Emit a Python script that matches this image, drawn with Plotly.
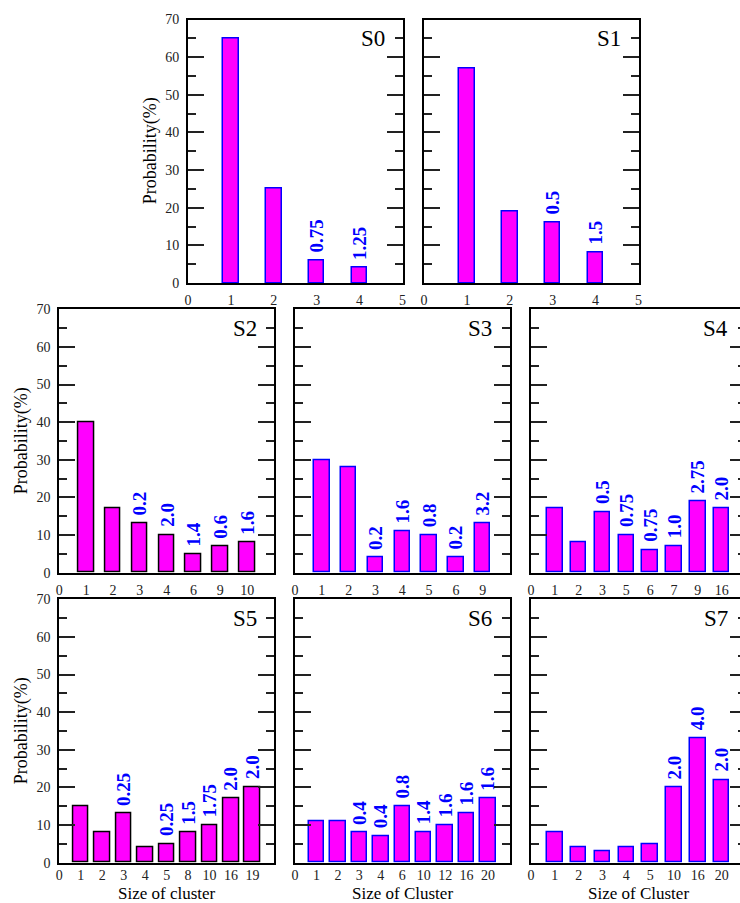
import plotly.graph_objects as go

W, H = 740, 903

# ---- data: cluster-size distribution per snapshot ----
s0_ticks = ["0", "1", "2", "3", "4", "5"]
s0_prob = [65, 25, 6, 4]
s0_note = ["", "", "0.75", "1.25"]

s1_ticks = ["0", "1", "2", "3", "4", "5"]
s1_prob = [57, 19, 16, 8]
s1_note = ["", "", "0.5", "1.5"]

s2_ticks = ["0", "1", "2", "3", "4", "6", "9", "10"]
s2_prob = [40, 17, 13, 10, 5, 7, 8]
s2_note = ["", "", "0.2", "2.0", "1.4", "0.6", "1.6"]

s3_ticks = ["0", "1", "2", "3", "4", "5", "6", "9"]
s3_prob = [30, 28, 4, 11, 10, 4, 13]
s3_note = ["", "", "0.2", "1.6", "0.8", "0.2", "3.2"]

s4_ticks = ["0", "1", "2", "3", "5", "6", "7", "9", "16"]
s4_prob = [17, 8, 16, 10, 6, 7, 19, 17]
s4_note = ["", "", "0.5", "0.75", "0.75", "1.0", "2.75", "2.0"]

s5_ticks = ["0", "1", "2", "3", "4", "5", "8", "10", "16", "19"]
s5_prob = [15, 8, 13, 4, 5, 8, 10, 17, 20]
s5_note = ["", "", "0.25", "", "0.25", "1.5", "1.75", "2.0", "2.0"]

s6_ticks = ["0", "1", "2", "3", "4", "6", "10", "12", "16", "20"]
s6_prob = [11, 11, 8, 7, 15, 8, 10, 13, 17]
s6_note = ["", "", "0.4", "0.4", "0.8", "1.4", "1.6", "1.6", "1.6"]

s7_ticks = ["0", "1", "2", "3", "4", "5", "10", "16", "20"]
s7_prob = [8, 4, 3, 4, 5, 20, 33, 22]
s7_note = ["", "", "", "", "", "2.0", "4.0", "2.0"]

# ---- layout geometry (pixels) ----
ROW_TOP = (19.5, 283.0)
ROW_MID = (309.3, 572.7)
ROW_BOT = (599.3, 862.7)
COL_A = (59.3, 274.0)
COL_B = (295.0, 509.5)
COL_C = (531.0, 745.5)   # runs past the right edge of the page

FONT = "Liberation Serif"
MAGENTA = "#FF00FF"
BLUE = "#0000FF"
BAR_PX = 15.5

panels = [
    # name, ticks, prob, note, outline, cols, row, nslots
    ("S0", s0_ticks, s0_prob, s0_note, BLUE, (188.0, 402.5), ROW_TOP, 5),
    ("S1", s1_ticks, s1_prob, s1_note, BLUE, (424.0, 638.5), ROW_TOP, 5),
    ("S2", s2_ticks, s2_prob, s2_note, "#000000", COL_A, ROW_MID, 8),
    ("S3", s3_ticks, s3_prob, s3_note, BLUE, COL_B, ROW_MID, 8),
    ("S4", s4_ticks, s4_prob, s4_note, BLUE, COL_C, ROW_MID, 9),
    ("S5", s5_ticks, s5_prob, s5_note, "#000000", COL_A, ROW_BOT, 10),
    ("S6", s6_ticks, s6_prob, s6_note, BLUE, COL_B, ROW_BOT, 10),
    ("S7", s7_ticks, s7_prob, s7_note, BLUE, COL_C, ROW_BOT, 9),
]
with_ylabels = {"S0", "S2", "S5"}
x_titles = {"S5": "Size of cluster", "S6": "Size of Cluster", "S7": "Size of Cluster"}

fig = go.Figure()
layout = {}
annotations = []
overlay_id = len(panels) + 1


def px_x(v):
    return v / W


def px_y(v):
    return 1 - v / H


for i, (name, ticks, prob, note, outline, (left, right), (top, bottom), nslots) in enumerate(panels, start=1):
    spacing = (right - left) / nslots
    vis_right = min(right, W)
    xmax = (vis_right - left) / spacing
    clipped = right > W
    xs = list(range(1, len(prob) + 1))
    bottom_row = name in x_titles

    fig.add_trace(go.Bar(
        x=xs, y=prob, width=BAR_PX / spacing,
        marker=dict(color=MAGENTA, line=dict(color=outline, width=1.5)),
        xaxis=f"x{i}", yaxis=f"y{i}", showlegend=False, hoverinfo="skip",
    ))

    layout[f"xaxis{i}"] = dict(
        domain=[px_x(left), px_x(vis_right)], anchor=f"y{i}",
        range=[0, xmax], tickmode="array",
        tickvals=list(range(len(ticks))), ticktext=ticks,
        showline=True, linecolor="black", linewidth=2, mirror=True,
        ticks="" if bottom_row else "outside", ticklen=3,
        tickcolor="rgba(0,0,0,0)",
        ticklabelstandoff=-2 if bottom_row else 0,
        showgrid=False, zeroline=False, automargin=False,
        tickfont=dict(family=FONT, size=14, color="#222"),
    )
    layout[f"yaxis{i}"] = dict(
        domain=[px_y(bottom), px_y(top)], anchor=f"x{i}",
        range=[0, 70], dtick=10, tick0=0,
        showline=True, linecolor="black", linewidth=2,
        mirror=False if clipped else "ticks",
        ticks="inside", ticklen=16, tickwidth=1.6, tickcolor="#222",
        minor=dict(ticks="inside", ticklen=8, tickwidth=1.6, tickcolor="#222", dtick=5),
        showgrid=False, zeroline=False, automargin=False,
        showticklabels=name in with_ylabels,
        ticklabelstandoff=4,
        tickfont=dict(family=FONT, size=14, color="#222"),
    )

    if clipped:
        # right-hand ticks of a frame whose edge lies beyond the page
        oid = overlay_id
        overlay_id += 1
        cut = right - W
        layout[f"yaxis{oid}"] = dict(
            overlaying=f"y{i}", anchor=f"x{i}", side="right",
            range=[0, 70], dtick=10, tick0=0, showline=False,
            ticks="inside", ticklen=16 - cut, tickwidth=1.6, tickcolor="#222",
            minor=dict(ticks="inside", ticklen=8 - cut, tickwidth=1.6, tickcolor="#222", dtick=5),
            showgrid=False, zeroline=False, showticklabels=False, automargin=False,
        )
        fig.add_trace(go.Scatter(x=[None], y=[None], xaxis=f"x{i}", yaxis=f"y{oid}",
                                 showlegend=False, hoverinfo="skip"))

    # value notes above bars
    for x, y, t in zip(xs, prob, note):
        if t:
            annotations.append(dict(
                xref=f"x{i}", yref=f"y{i}", x=x, y=y, text=t,
                textangle=-90, xanchor="center", yanchor="bottom", yshift=6,
                showarrow=False,
                font=dict(family=FONT, size=19, color=BLUE, weight="bold"),
            ))

    # panel label
    annotations.append(dict(
        xref="paper", yref="paper", x=px_x(right - 15.5), y=px_y(top + 19.5),
        xanchor="right", yanchor="middle", text=name, showarrow=False,
        font=dict(family=FONT, size=23, color="black"),
    ))

    if name in with_ylabels:
        annotations.append(dict(
            xref="paper", yref="paper", x=px_x(left - 38), y=px_y((top + bottom) / 2),
            xanchor="center", yanchor="middle", textangle=-90,
            text="Probability(%)", showarrow=False, borderpad=0,
            font=dict(family=FONT, size=18, color="black"),
        ))
    if bottom_row:
        annotations.append(dict(
            xref="paper", yref="paper", x=px_x((left + right) / 2), y=px_y(bottom + 30.8),
            xanchor="center", yanchor="middle", borderpad=0,
            text=x_titles[name], showarrow=False,
            font=dict(family=FONT, size=17, color="black"),
        ))

fig.update_layout(
    width=W, height=H,
    margin=dict(l=0, r=0, t=0, b=0, autoexpand=False),
    paper_bgcolor="white", plot_bgcolor="white",
    showlegend=False, bargap=0,
    annotations=annotations,
    **layout,
)

fig.write_html("out.html")
